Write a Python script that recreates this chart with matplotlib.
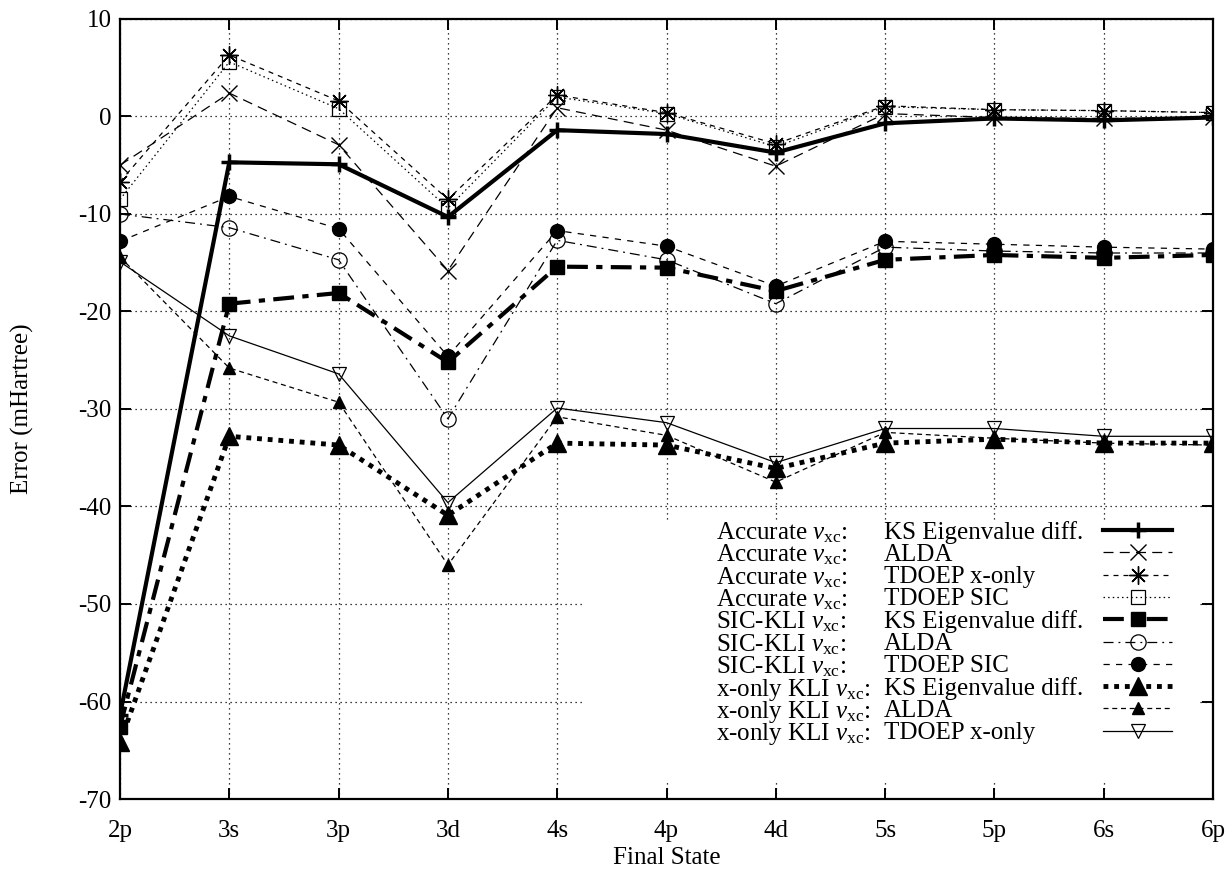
import numpy as np
import matplotlib
matplotlib.use('Agg')
import matplotlib.pyplot as plt
from matplotlib.patches import Rectangle
from matplotlib.lines import Line2D

plt.rcParams['font.family'] = ['Liberation Serif', 'DejaVu Serif']
plt.rcParams['mathtext.fontset'] = 'custom'
plt.rcParams['mathtext.rm'] = 'Liberation Serif'
plt.rcParams['mathtext.it'] = 'Liberation Serif:italic'
plt.rcParams['axes.unicode_minus'] = False

# --- data ---
states = ['2p', '3s', '3p', '3d', '4s', '4p', '4d', '5s', '5p', '6s', '6p']

acc_ks = [-61.4, -4.7, -4.9, -10.3, -1.4, -1.8, -3.7, -0.7, -0.2, -0.4, -0.1]
acc_alda = [-5.0, 2.4, -2.9, -15.8, 0.9, -1.4, -5.1, 0.3, -0.1, -0.2, -0.1]
acc_xonly = [-6.7, 6.3, 1.6, -8.5, 2.2, 0.4, -2.8, 1.1, 0.7, 0.6, 0.4]
acc_sic = [-8.5, 5.6, 0.8, -9.4, 2.0, 0.3, -3.1, 1.0, 0.7, 0.6, 0.4]

sic_ks = [-62.6, -19.2, -18.1, -25.2, -15.4, -15.5, -17.9, -14.7, -14.2, -14.5, -14.2]
sic_alda = [-10.0, -11.4, -14.7, -31.0, -12.7, -14.7, -19.2, -13.4, -13.8, -14.0, -14.0]
sic_sic = [-12.8, -8.2, -11.5, -24.6, -11.7, -13.3, -17.4, -12.8, -13.1, -13.4, -13.6]

xkli_ks = [-64.2, -32.8, -33.7, -40.9, -33.5, -33.7, -36.1, -33.5, -33.1, -33.5, -33.5]
xkli_alda = [-14.4, -25.8, -29.3, -46.0, -30.8, -32.7, -37.5, -32.4, -33.0, -33.5, -33.7]
xkli_xonly = [-14.9, -22.5, -26.4, -39.6, -29.9, -31.4, -35.5, -32.0, -32.0, -32.8, -32.8]

prefixes = ['Accurate $v_{\\rm xc}$:'] * 4 + ['SIC-KLI $v_{\\rm xc}$:'] * 3 + ['x-only KLI $v_{\\rm xc}$:'] * 3
methods = ['KS Eigenvalue diff.', 'ALDA', 'TDOEP x-only', 'TDOEP SIC',
           'KS Eigenvalue diff.', 'ALDA', 'TDOEP SIC',
           'KS Eigenvalue diff.', 'ALDA', 'TDOEP x-only']

series = [acc_ks, acc_alda, acc_xonly, acc_sic, sic_ks, sic_alda, sic_sic,
          xkli_ks, xkli_alda, xkli_xonly]

# line styles, gnuplot-like
styles = [
    dict(ls='-', lw=3.0, marker='+', ms=12, mew=2.5, mfc='k'),
    dict(ls=(0, (8, 5)), lw=0.9, marker='x', ms=11, mew=1.0, mfc='k'),
    dict(ls=(0, (4, 4)), lw=0.9, marker=(8, 2, 0), ms=13, mew=1.0, mfc='k'),
    dict(ls=(0, (1.2, 2.5)), lw=0.9, marker='s', ms=10, mew=0.9, mfc='none'),
    dict(ls=(0, (5, 2, 1.5, 2)), lw=3.0, marker='s', ms=10, mew=1.0, mfc='k'),
    dict(ls=(0, (8, 4, 1.5, 4)), lw=0.9, marker='o', ms=11, mew=0.9, mfc='none'),
    dict(ls=(0, (5, 5)), lw=0.9, marker='o', ms=10, mew=1.0, mfc='k'),
    dict(ls=(0, (1, 1.2)), lw=3.5, marker='^', ms=13, mew=1.0, mfc='k'),
    dict(ls=(0, (4, 3)), lw=0.9, marker='^', ms=8, mew=1.0, mfc='k'),
    dict(ls='-', lw=0.9, marker='v', ms=10, mew=0.9, mfc='none'),
]

FS = 18
W, H = 1231, 873

x = np.arange(len(states))

fig = plt.figure(figsize=(W / 100, H / 100), dpi=100)
ax = fig.add_axes([120 / W, 1 - 799 / H, (1213 - 120) / W, (799 - 19) / H])

for vals, st in zip(series, styles):
    ax.plot(x, vals, color='k', linestyle=st['ls'], linewidth=st['lw'],
            marker=st['marker'], markersize=st['ms'], markeredgewidth=st['mew'],
            markerfacecolor=st['mfc'], markeredgecolor='k', zorder=3)

ax.set_xlim(0, len(states) - 1)
ax.set_ylim(-70, 10)
ax.set_xticks(x)
ax.set_xticklabels(states)
ax.set_yticks(np.arange(-70, 11, 10))

ax.set_axisbelow(True)
ax.grid(True, color='k', linestyle=(0, (1, 3)), linewidth=0.9)

for sp in ax.spines.values():
    sp.set_linewidth(1.6)
ax.tick_params(direction='in', length=8, width=1.4, top=True, right=True,
               labelsize=FS)
ax.tick_params(axis='x', pad=15)
ax.tick_params(axis='y', pad=6)

ax.set_xlabel('Final State', fontsize=FS)
ax.set_ylabel('Error (mHartree)', fontsize=FS)
ax.xaxis.set_label_coords(0.5, (799 - 858) / 780)
ax.xaxis.label.set_verticalalignment('center')
ax.yaxis.set_label_coords((22 - 120) / 1093, 0.5)
ax.yaxis.label.set_verticalalignment('center')

# white key area hides the grid behind the key
ax.add_patch(Rectangle((4.25, -68.3), 5.62, 26.6, facecolor='white',
                       edgecolor='none', zorder=1))

# key, gnuplot style: two text columns and a sample on the right
row0, pitch = 530, 22.3
for i, (pre, meth, st) in enumerate(zip(prefixes, methods, styles)):
    yf = 1 - (row0 + i * pitch) / H
    fig.text(716 / W, yf, pre, fontsize=FS, va='center_baseline', ha='left')
    fig.text(884 / W, yf, meth, fontsize=FS, va='center_baseline', ha='left')
    fig.add_artist(Line2D([1103 / W, 1172 / W], [yf, yf], transform=fig.transFigure,
                          color='k', linestyle=st['ls'], linewidth=st['lw']))
    fig.add_artist(Line2D([1138 / W], [yf], transform=fig.transFigure,
                          color='k', linestyle='none', marker=st['marker'],
                          markersize=st['ms'], markeredgewidth=st['mew'],
                          markerfacecolor=st['mfc'], markeredgecolor='k'))

fig.savefig('out.png', dpi=100)
